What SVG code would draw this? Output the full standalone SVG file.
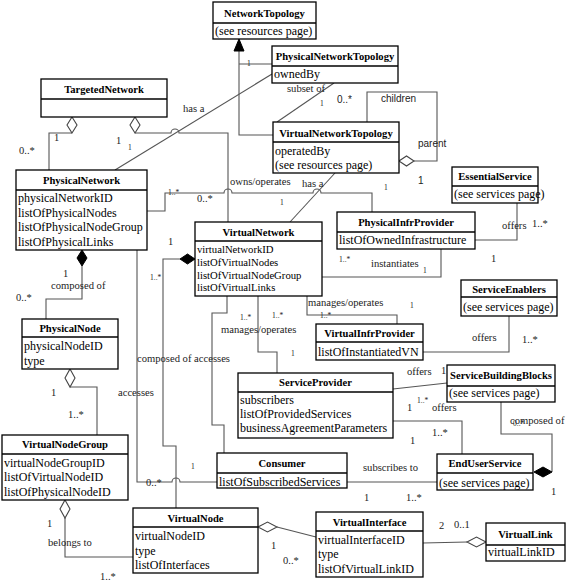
<svg xmlns="http://www.w3.org/2000/svg" width="567" height="581" viewBox="0 0 567 581">
<style>
.node rect{fill:#fff;stroke:#000;stroke-width:1.3}
.node line{stroke:#000;stroke-width:1.3}
.hd{font-family:"Liberation Serif",serif;font-weight:bold;font-size:10.6px;text-anchor:middle;fill:#000}
.at{font-family:"Liberation Serif",serif;font-size:12px;fill:#000}
.at2{font-family:"Liberation Serif",serif;font-size:10.7px;fill:#000}
.cn path{fill:none;stroke:#555;stroke-width:1.1}
.hol{fill:#fff;stroke:#444;stroke-width:1.1}
.fil{fill:#000;stroke:#000;stroke-width:1}
.lb{font-family:"Liberation Serif",serif;font-size:10.6px;fill:#222}
.md{font-family:"Liberation Serif",serif;font-size:10.5px;fill:#222}
.sm{font-family:"Liberation Serif",serif;font-size:7.5px;fill:#222}
.ss{font-family:"Liberation Sans",sans-serif;font-size:10px;fill:#222}
</style>

<g id="connectors" class="cn">
  <path d="M239,51 V135 H273 M239,64 H272"/>
  <polygon class="fil" points="239,39 234,51 244,51"/>
  <path d="M115,170 L272,74"/>
  <path d="M72,133 H49 V170"/>
  <polygon class="hol" points="72,117 77,125 72,133 67,125"/>
  <path d="M135,133 H171 A4,4 0 0 1 179,133 H228 V222"/>
  <polygon class="hol" points="135,117 140,125 135,133 130,125"/>
  <path d="M147,211 H165 V193 H224 A4,4 0 0 1 232,193 H313 A4,4 0 0 1 321,193 H372 V212"/>
  <path d="M335,173 L290,222"/>
  <path d="M334,83 L277,122"/>
  <path d="M367,122 V92 H437 V161 H414"/>
  <polygon class="hol" points="399,161 406.5,156 414,161 406.5,166"/>
  <path d="M180,259 H163 V446 H176 V508"/>
  <polygon class="fil" points="195,259 187.5,254 180,259 187.5,264"/>
  <path d="M137,250 V482 H172 A4,4 0 0 1 180,482 H217"/>
  <path d="M82,266 V299 H46 V319"/>
  <polygon class="fil" points="82,250 87,258 82,266 77,258"/>
  <path d="M70,387 H97 V435"/>
  <polygon class="hol" points="70,369 75,378 70,387 65,378"/>
  <path d="M65,518 V557 H133"/>
  <polygon class="hol" points="65,500 70,509 65,518 60,509"/>
  <path d="M277,527 L316,537"/>
  <polygon class="hol" points="258,527 267.5,522 277,527 267.5,532"/>
  <path d="M423,543 L467,542"/>
  <polygon class="hol" points="486,542 476.5,537 467,542 476.5,547"/>
  <path d="M347,482 H437"/>
  <path d="M552,472 V434 H501 V402"/>
  <polygon class="fil" points="534,472 543,467 552,472 543,477"/>
  <path d="M393,389 L447,383"/>
  <path d="M393,421 H462 V454"/>
  <path d="M423,352 H509 V316"/>
  <path d="M475,240 H517 V203"/>
  <path d="M322,277 H441 V249"/>
  <path d="M307,296 V315 H397 V324"/>
  <path d="M258,296 V352 H277 V373"/>
  <path d="M227,296 V313 H212 V425 H224 V453"/>
</g>

<g id="labels">
  <text class="lb" x="183" y="112">has a</text>
  <text class="md" x="54" y="141">1</text>
  <text class="md" x="19" y="154">0..*</text>
  <text class="md" x="116" y="144">1</text>
  <text class="sm" x="128" y="150">1</text>
  <text class="sm" x="247" y="66">1</text>
  <text class="lb" x="287" y="92">subset of</text>
  <text class="sm" x="320" y="106">1</text>
  <text class="ss" x="337" y="103">0..*</text>
  <text class="ss" x="381" y="102">children</text>
  <text class="ss" x="418" y="147">parent</text>
  <text class="ss" x="418" y="184">1</text>
  <text class="lb" x="230" y="185">owns/operates</text>
  <text class="lb" x="302" y="187">has a</text>
  <text class="sm" x="384" y="190">1</text>
  <text class="sm" x="168" y="195">1..*</text>
  <text class="md" x="197" y="202">0..*</text>
  <text class="sm" x="280" y="205">1</text>
  <text class="md" x="168" y="245">1</text>
  <text class="sm" x="150" y="280">1..*</text>
  <text class="md" x="63" y="277">1</text>
  <text class="lb" x="51" y="289">composed of</text>
  <text class="md" x="16" y="301">0..*</text>
  <text class="lb" x="502" y="229">offers</text>
  <text class="md" x="532" y="227">1..*</text>
  <text class="md" x="491" y="262">1</text>
  <text class="sm" x="339" y="262">1..*</text>
  <text class="lb" x="371" y="267">instantiates</text>
  <text class="sm" x="423" y="273">1</text>
  <text class="lb" x="308" y="306">manages/operates</text>
  <text class="sm" x="410" y="308">1</text>
  <text class="sm" x="320" y="318">1..*</text>
  <text class="sm" x="272" y="318">1..*</text>
  <text class="sm" x="240" y="320">1..*</text>
  <text class="lb" x="221" y="333">manages/operates</text>
  <text class="sm" x="291" y="356">1</text>
  <text class="lb" x="472" y="341">offers</text>
  <text class="md" x="522" y="343">1..*</text>
  <text class="lb" x="137" y="362">composed of accesses</text>
  <text class="lb" x="118" y="396">accesses</text>
  <text class="md" x="51" y="396">1</text>
  <text class="md" x="68" y="418">1..*</text>
  <text class="lb" x="407" y="375">offers</text>
  <text class="md" x="441" y="374">1</text>
  <text class="md" x="407" y="411">1</text>
  <text class="sm" x="417" y="403">1..*</text>
  <text class="lb" x="432" y="411">offers</text>
  <text class="md" x="410" y="444">1</text>
  <text class="md" x="432" y="436">1..*</text>
  <text class="lb" x="510" y="424">composed of</text>
  <text class="sm" x="513" y="426">0..*</text>
  <text class="md" x="551" y="495">1</text>
  <text class="sm" x="191" y="469">1</text>
  <text class="md" x="146" y="486">0..*</text>
  <text class="lb" x="363" y="471">subscribes to</text>
  <text class="md" x="364" y="501">1</text>
  <text class="md" x="406" y="501">1..*</text>
  <text class="md" x="439" y="529">2</text>
  <text class="md" x="454" y="528">0..1</text>
  <text class="md" x="47" y="527">1</text>
  <text class="lb" x="48" y="546">belongs to</text>
  <text class="md" x="100" y="580">1..*</text>
  <text class="md" x="271" y="549">1</text>
  <text class="md" x="283" y="564">0..*</text>
</g>

<g id="NetworkTopology" class="node">
  <rect x="213" y="2" width="103" height="37"/><line x1="213" y1="23" x2="316" y2="23"/>
  <text class="hd" x="264.5" y="17">NetworkTopology</text>
  <text class="at" x="215" y="35">(see resources page)</text>
</g>
<g id="PhysicalNetworkTopology" class="node">
  <rect x="272" y="46" width="126" height="37"/><line x1="272" y1="66" x2="398" y2="66"/>
  <text class="hd" x="335" y="60">PhysicalNetworkTopology</text>
  <text class="at" x="274" y="78">ownedBy</text>
</g>
<g id="TargetedNetwork" class="node">
  <rect x="41" y="79" width="126" height="38"/><line x1="41" y1="99" x2="167" y2="99"/>
  <text class="hd" x="104" y="93">TargetedNetwork</text>
</g>
<g id="VirtualNetworkTopology" class="node">
  <rect x="273" y="122" width="126" height="51"/><line x1="273" y1="142" x2="399" y2="142"/>
  <text class="hd" x="336" y="137">VirtualNetworkTopology</text>
  <text class="at" x="275" y="155">operatedBy</text>
  <text class="at" x="275" y="169">(see resources page)</text>
</g>
<g id="EssentialService" class="node">
  <rect x="452" y="167" width="86" height="36"/><line x1="452" y1="186" x2="538" y2="186"/>
  <text class="hd" x="495" y="180">EssentialService</text>
  <text class="at" x="454" y="198">(see services page)</text>
</g>
<g id="PhysicalNetwork" class="node">
  <rect x="16" y="170" width="131" height="80"/><line x1="16" y1="190" x2="147" y2="190"/>
  <text class="hd" x="81.5" y="184">PhysicalNetwork</text>
  <text class="at" x="18" y="202">physicalNetworkID</text>
  <text class="at" x="18" y="216.5">listOfPhysicalNodes</text>
  <text class="at" x="18" y="231">listOfPhysicalNodeGroup</text>
  <text class="at" x="18" y="245.5">listOfPhysicalLinks</text>
</g>
<g id="VirtualNetwork" class="node">
  <rect x="195" y="222" width="127" height="74"/><line x1="195" y1="241" x2="322" y2="241"/>
  <text class="hd" x="258.5" y="236">VirtualNetwork</text>
  <text class="at2" x="197" y="253">virtualNetworkID</text>
  <text class="at2" x="197" y="266">listOfVirtualNodes</text>
  <text class="at2" x="197" y="279">listOfVirtualNodeGroup</text>
  <text class="at2" x="197" y="291">listOfVirtualLinks</text>
</g>
<g id="PhysicalInfrProvider" class="node">
  <rect x="337" y="212" width="138" height="37"/><line x1="337" y1="232" x2="475" y2="232"/>
  <text class="hd" x="406" y="226">PhysicalInfrProvider</text>
  <text class="at" x="339" y="244">listOfOwnedInfrastructure</text>
</g>
<g id="ServiceEnablers" class="node">
  <rect x="461" y="280" width="96" height="36"/><line x1="461" y1="297" x2="557" y2="297"/>
  <text class="hd" x="509" y="293">ServiceEnablers</text>
  <text class="at" x="463" y="311">(see services page)</text>
</g>
<g id="VirtualInfrProvider" class="node">
  <rect x="316" y="324" width="107" height="36"/><line x1="316" y1="342" x2="423" y2="342"/>
  <text class="hd" x="369.5" y="337">VirtualInfrProvider</text>
  <text class="at" x="318" y="356">listOfInstantiatedVN</text>
</g>
<g id="PhysicalNode" class="node">
  <rect x="22" y="319" width="96" height="50"/><line x1="22" y1="337" x2="118" y2="337"/>
  <text class="hd" x="70" y="332">PhysicalNode</text>
  <text class="at" x="24" y="350">physicalNodeID</text>
  <text class="at" x="24" y="365">type</text>
</g>
<g id="ServiceProvider" class="node">
  <rect x="238" y="373" width="155" height="65"/><line x1="238" y1="392" x2="393" y2="392"/>
  <text class="hd" x="315.5" y="386">ServiceProvider</text>
  <text class="at" x="240" y="404">subscribers</text>
  <text class="at" x="240" y="418">listOfProvidedServices</text>
  <text class="at" x="240" y="432">businessAgreementParameters</text>
</g>
<g id="ServiceBuildingBlocks" class="node">
  <rect x="447" y="365" width="108" height="37"/><line x1="447" y1="386" x2="555" y2="386"/>
  <text class="hd" x="501" y="379">ServiceBuildingBlocks</text>
  <text class="at" x="449" y="397">(see services page)</text>
</g>
<g id="VirtualNodeGroup" class="node">
  <rect x="2" y="435" width="126" height="65"/><line x1="2" y1="454" x2="128" y2="454"/>
  <text class="hd" x="65" y="448">VirtualNodeGroup</text>
  <text class="at" x="4" y="467">virtualNodeGroupID</text>
  <text class="at" x="4" y="481">listOfVirtualNodeID</text>
  <text class="at" x="4" y="496">listOfPhysicalNodeID</text>
</g>
<g id="Consumer" class="node">
  <rect x="217" y="453" width="130" height="35"/><line x1="217" y1="473" x2="347" y2="473"/>
  <text class="hd" x="282" y="467">Consumer</text>
  <text class="at" x="219" y="486">listOfSubscribedServices</text>
</g>
<g id="EndUserService" class="node">
  <rect x="437" y="454" width="96" height="36"/><line x1="437" y1="473" x2="533" y2="473"/>
  <text class="hd" x="485" y="467">EndUserService</text>
  <text class="at" x="439" y="487">(see services page)</text>
</g>
<g id="VirtualNode" class="node">
  <rect x="133" y="508" width="125" height="65"/><line x1="133" y1="527" x2="258" y2="527"/>
  <text class="hd" x="195.5" y="522">VirtualNode</text>
  <text class="at" x="135" y="540">virtualNodeID</text>
  <text class="at" x="135" y="555">type</text>
  <text class="at" x="135" y="569">listOfInterfaces</text>
</g>
<g id="VirtualInterface" class="node">
  <rect x="316" y="512" width="107" height="65"/><line x1="316" y1="531" x2="423" y2="531"/>
  <text class="hd" x="369.5" y="526">VirtualInterface</text>
  <text class="at" x="318" y="544">virtualInterfaceID</text>
  <text class="at" x="318" y="558">type</text>
  <text class="at" x="318" y="573">listOfVirtualLinkID</text>
</g>
<g id="VirtualLink" class="node">
  <rect x="486" y="523" width="79" height="38"/><line x1="486" y1="545" x2="565" y2="545"/>
  <text class="hd" x="525.5" y="538">VirtualLink</text>
  <text class="at" x="488" y="556">virtualLinkID</text>
</g>
</svg>
